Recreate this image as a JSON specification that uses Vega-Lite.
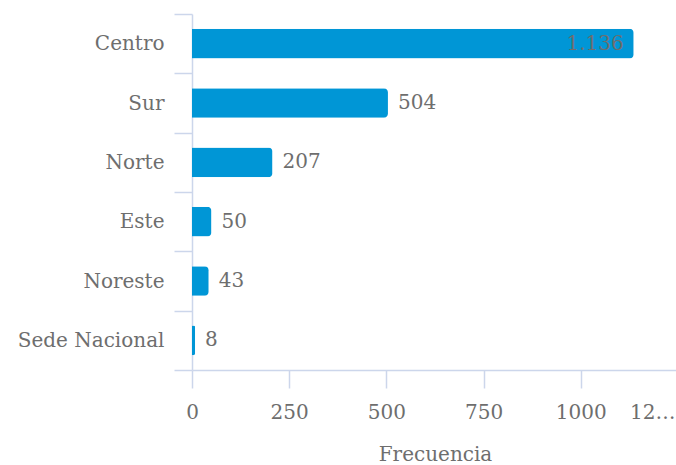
{
  "$schema": "https://vega.github.io/schema/vega-lite/v6.json",
  "width": 486,
  "height": 356,
  "autosize": {"type": "none"},
  "padding": {"left": 192, "top": 14, "right": 0, "bottom": 95},
  "background": "white",
  "config": {
    "view": {"stroke": null},
    "font": "DejaVu Serif",
    "locale": {"number": {"decimal": ",", "thousands": ".", "grouping": [3], "currency": ["", ""]}},
    "axis": {"domainColor": "#ccd6eb", "tickColor": "#ccd6eb", "labelColor": "#6e6e6e", "titleColor": "#6e6e6e", "labelFont": "DejaVu Serif", "titleFont": "DejaVu Serif", "labelFontSize": 20, "titleFontSize": 20, "titleFontWeight": "normal", "grid": false, "domainWidth": 1.5, "tickWidth": 1.5}
  },
  "data": {"values": [
    {"Region": "Centro", "Frecuencia": 1136},
    {"Region": "Sur", "Frecuencia": 504},
    {"Region": "Norte", "Frecuencia": 207},
    {"Region": "Este", "Frecuencia": 50},
    {"Region": "Noreste", "Frecuencia": 43},
    {"Region": "Sede Nacional", "Frecuencia": 8}
  ]},
  "encoding": {
    "y": {"field": "Region", "type": "nominal", "sort": null, "title": null,
      "scale": {"paddingInner": 0, "paddingOuter": 0},
      "axis": {"tickBand": "extent", "tickSize": 18, "labelPadding": 10}},
    "x": {"field": "Frecuencia", "type": "quantitative", "title": "Frecuencia",
      "scale": {"domain": [0, 1250], "nice": false},
      "axis": {"values": [0, 250, 500, 750, 1000, 1250], "format": "d", "tickSize": 18, "labelPadding": 14, "titlePadding": 22,
        "labelAlign": {"expr": "datum.value == 1250 ? 'right' : 'center'"},
        "labelOffset": {"expr": "datum.value == 1250 ? -3 : 0"},
        "labelExpr": "datum.value == 1250 ? '12…' : datum.label"}}
  },
  "layer": [
    {"mark": {"type": "bar", "color": "#0096d6", "cornerRadiusEnd": 4, "height": {"band": 0.5}}},
    {"transform": [{"filter": "datum.Frecuencia < 1000"}],
     "mark": {"type": "text", "align": "left", "dx": 10, "fontSize": 20, "color": "#6e6e6e"},
     "encoding": {"text": {"field": "Frecuencia", "type": "quantitative", "format": ",d"}}},
    {"transform": [{"filter": "datum.Frecuencia >= 1000"}],
     "mark": {"type": "text", "align": "right", "dx": -10, "fontSize": 20, "color": "#6e6e6e"},
     "encoding": {"text": {"field": "Frecuencia", "type": "quantitative", "format": ",d"}}}
  ]
}
